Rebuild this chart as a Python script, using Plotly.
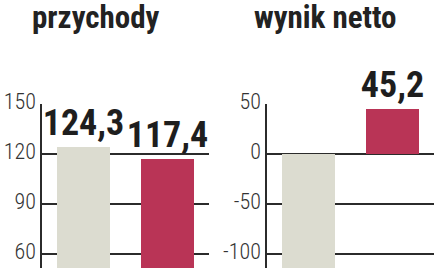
import plotly.graph_objects as go

# data
categories = ["poprzedni", "bieżący"]
przychody = [124.3, 117.4]
wynik_netto = [-130.0, 45.2]
przychody_labels = ["124,3", "117,4"]
wynik_labels = ["", "45,2"]
titles = ["przychody", "wynik netto"]
left_ticks = [60, 90, 120, 150]
left_ticktext = ["60", "90", "120", "150"]
right_ticks = [-100, -50, 0, 50]
right_ticktext = ["-100", "-50", "0", "50"]

GRAY = "#dcdcd0"
RED = "#b93456"
INK = "#2b2b2b"
COND = "Roboto Condensed, DejaVu Sans Condensed, sans-serif"

W, H = 439, 268
TOP = 104
PH = H - TOP

fig = go.Figure()
for ax, vals, labs in [("", przychody, przychody_labels), ("2", wynik_netto, wynik_labels)]:
    fig.add_trace(go.Bar(
        x=[0, 1], y=vals, text=labs, textposition="outside",
        marker=dict(color=[GRAY, RED], line=dict(width=0)), width=0.635,
        textfont=dict(family=COND, size=36, color="#1e1e1e", weight="bold"),
        constraintext="none", cliponaxis=False, xaxis="x" + ax, yaxis="y" + ax,
        hoverinfo="skip"))

axis_common = dict(showgrid=True, gridcolor=INK, gridwidth=1.5, zeroline=False,
                   showline=True, linecolor=INK, linewidth=1.5,
                   ticks="", ticklabelshift=-3,
                   tickfont=dict(family=COND, size=22, color="#333", weight=300),
                   layer="below traces")
xcommon = dict(showgrid=False, showticklabels=False, zeroline=False,
               showline=False, range=[-0.5, 1.5], fixedrange=True)

fig.update_layout(
    width=W, height=H, margin=dict(l=0, r=0, t=TOP, b=0),
    paper_bgcolor="white", plot_bgcolor="white", showlegend=False,
    bargap=0,
    xaxis=dict(domain=[42 / W, 209 / W], **xcommon),
    xaxis2=dict(domain=[267 / W, 434 / W], **xcommon),
    yaxis=dict(range=[51.6, 150.2], tickvals=left_ticks, ticktext=left_ticktext,
               anchor="x", **axis_common),
    yaxis2=dict(range=[-114, 50.2], tickvals=right_ticks, ticktext=right_ticktext,
                anchor="x2", **axis_common),
)

for txt, xc in zip(titles, [96, 325]):
    fig.add_annotation(text=txt, x=xc / W, y=1 + (TOP - 17) / PH, xref="paper", yref="paper",
                       yanchor="middle", xanchor="center", showarrow=False,
                       font=dict(family=COND, size=31, color="#222", weight="bold"))

fig.write_html("out.html")
